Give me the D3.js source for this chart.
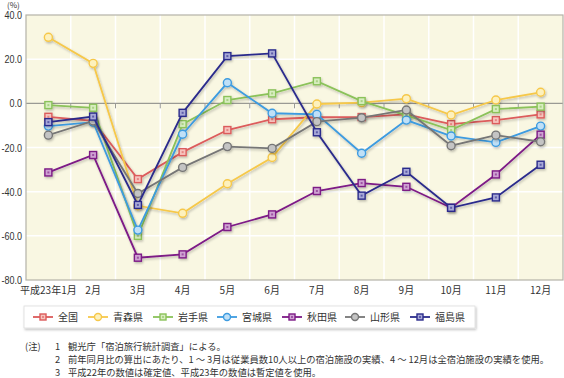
<!DOCTYPE html>
<html>
<head>
<meta charset="utf-8">
<script src="https://cdn.jsdelivr.net/npm/d3@7"></script>
<style>
  body { margin: 0; background: #fff; }
  text { font-family: "Noto Sans CJK JP", "Noto Sans", sans-serif; }
</style>
</head>
<body>
<svg id="chart" width="564" height="378"></svg>
<script>
// month labels along the x axis
let months = ["平成23年1月", "2月", "3月", "4月", "5月", "6月", "7月", "8月", "9月", "10月", "11月", "12月"];
let yTicks = [40, 20, 0, -20, -40, -60, -80];

// year-on-year change (%) by prefecture
let zenkoku   = [-6.1, -7.9, -34.3, -22.1, -12.1, -7.2, -6.3, -6.2, -5.0, -9.4, -7.6, -5.0];
let aomori    = [29.9, 18.1, -46.4, -49.8, -36.4, -24.5, -0.3, 0.3, 2.1, -5.3, 1.5, 5.0];
let iwate     = [-0.8, -2.0, -60.0, -9.4, 1.5, 4.5, 10.0, 1.0, -5.5, -12.1, -2.6, -1.5];
let miyagi    = [-10.3, -8.5, -57.4, -14.0, 9.3, -4.5, -5.0, -22.6, -7.6, -14.8, -17.7, -10.3];
let akita     = [-31.3, -23.4, -69.9, -68.4, -56.0, -50.3, -39.7, -36.1, -37.8, -47.3, -32.2, -14.2];
let yamagata  = [-14.4, -8.0, -40.8, -29.0, -19.6, -20.4, -8.3, -6.5, -3.0, -19.2, -14.4, -17.4];
let fukushima = [-8.5, -6.0, -46.0, -4.3, 21.4, 22.6, -13.1, -41.8, -31.0, -47.3, -42.6, -27.8];

let seriesNames = ["全国", "青森県", "岩手県", "宮城県", "秋田県", "山形県", "福島県"];
let seriesValues = [zenkoku, aomori, iwate, miyagi, akita, yamagata, fukushima];
let seriesShapes = ["square", "circle", "square", "circle", "square", "circle", "square"];
let lineColors = ["#dc5b5b", "#f6c84a", "#8bc25a", "#3d9be0", "#7d1a86", "#767676", "#2b2c8c"];
let fillColors = ["#f6c3bd", "#fdf1bd", "#d8edc0", "#bfe0f7", "#cfa3d3", "#c4c4c4", "#a8a9d8"];

let notes = [
  ["(注)", "1", "観光庁「宿泊旅行統計調査」による。"],
  ["", "2", "前年同月比の算出にあたり、1 ～ 3月は従業員数10人以上の宿泊施設の実績、4 ～ 12月は全宿泊施設の実績を使用。"],
  ["", "3", "平成22年の数値は確定値、平成23年の数値は暫定値を使用。"]
];

let svg = d3.select("#chart");
let plotLeft = 26, plotRight = 563, plotTop = 15, plotBottom = 280;

let x = d3.scaleBand().domain(months).range([plotLeft, plotRight]);
let y = d3.scaleLinear().domain([-80, 40]).range([plotBottom, plotTop]);
let cx = m => x(m) + x.bandwidth() / 2;

let defs = svg.append("defs");
let shadow = defs.append("filter").attr("id", "shadow")
    .attr("x", "-10%").attr("y", "-10%").attr("width", "130%").attr("height", "130%");
shadow.append("feDropShadow")
    .attr("dx", 1).attr("dy", 1.5).attr("stdDeviation", 1.2)
    .attr("flood-color", "#000").attr("flood-opacity", 0.25);

// plot background
svg.append("rect")
    .attr("x", plotLeft).attr("y", plotTop)
    .attr("width", plotRight - plotLeft).attr("height", plotBottom - plotTop)
    .style("fill", "#f9f7e2");

// white grid
svg.selectAll(".hgrid")
    .data(yTicks.filter(d => d != 40 && d != -80 && d != 0))
  .enter().append("line")
    .attr("x1", plotLeft).attr("x2", plotRight)
    .attr("y1", d => y(d)).attr("y2", d => y(d))
    .style("stroke", "#fff").style("stroke-width", 1.5);

svg.selectAll(".vgrid")
    .data(months.slice(1))
  .enter().append("line")
    .attr("x1", d => x(d)).attr("x2", d => x(d))
    .attr("y1", plotTop).attr("y2", plotBottom)
    .style("stroke", "#fff").style("stroke-width", 1.5);

// zero line with small ticks
svg.append("line")
    .attr("x1", plotLeft).attr("x2", plotRight)
    .attr("y1", y(0)).attr("y2", y(0))
    .style("stroke", "#9a9a94").style("stroke-width", 1.2);
svg.selectAll(".ztick")
    .data(months.slice(1))
  .enter().append("line")
    .attr("x1", d => x(d)).attr("x2", d => x(d))
    .attr("y1", y(0)).attr("y2", y(0) + 5)
    .style("stroke", "#9a9a94").style("stroke-width", 1);

// frame
svg.append("rect")
    .attr("x", plotLeft).attr("y", plotTop)
    .attr("width", plotRight - plotLeft).attr("height", plotBottom - plotTop)
    .style("fill", "none").style("stroke", "#b4b2a8").style("stroke-width", 1.2);

// y labels (horizontally squeezed like the original)
svg.selectAll(".ylabel")
    .data(yTicks)
  .enter().append("text")
    .attr("transform", d => "translate(" + (plotLeft - 4) + "," + (y(d) + 4) + ") scale(0.82,1)")
    .attr("text-anchor", "end")
    .style("font-family", "'Liberation Sans', Arial, sans-serif")
    .style("font-size", "11px")
    .style("fill", "#333")
    .text(d => d.toFixed(1));

svg.append("text")
    .attr("x", 7).attr("y", 8)
    .style("font-size", "8px")
    .style("fill", "#333")
    .text("(%)");

// x labels
svg.selectAll(".xlabel")
    .data(months)
  .enter().append("text")
    .attr("x", d => cx(d))
    .attr("y", plotBottom + 14)
    .attr("text-anchor", "middle")
    .style("font-size", "10px")
    .style("fill", "#333")
    .text(d => d);

function drawMarker(g, shape, i, size) {
  if (shape == "square") {
    g.append("rect")
      .attr("x", -size / 2).attr("y", -size / 2)
      .attr("width", size).attr("height", size)
      .style("fill", fillColors[i]).style("stroke", lineColors[i]).style("stroke-width", 1.4);
    g.append("rect")
      .attr("x", -1).attr("y", -1).attr("width", 2).attr("height", 2)
      .style("fill", lineColors[i]).style("opacity", 0.6);
  } else {
    g.append("circle")
      .attr("r", size / 2 + 0.5)
      .style("fill", fillColors[i]).style("stroke", lineColors[i]).style("stroke-width", 1.4);
  }
}

// series
let line = d3.line()
    .x((d, j) => cx(months[j]))
    .y(d => y(d));

seriesValues.forEach(function(vals, i) {
  let g = svg.append("g").attr("filter", "url(#shadow)");
  g.append("path")
    .datum(vals)
    .attr("d", line)
    .style("fill", "none")
    .style("stroke", lineColors[i])
    .style("stroke-width", 1.8);
  vals.forEach(function(v, j) {
    let m = g.append("g").attr("transform", "translate(" + cx(months[j]) + "," + y(v) + ")");
    drawMarker(m, seriesShapes[i], i, 7);
  });
});

// legend
let legend = svg.append("g");
legend.append("rect")
    .attr("x", 24).attr("y", 306)
    .attr("width", 451).attr("height", 22)
    .attr("filter", "url(#shadow)")
    .style("fill", "#fff").style("stroke", "#dddddd").style("stroke-width", 0.8);

let legendX = [33, 88, 153, 217, 282, 345, 410];
seriesNames.forEach(function(name, i) {
  let lg = legend.append("g").attr("transform", "translate(" + legendX[i] + ",317)");
  lg.append("line")
    .attr("x1", 0).attr("x2", 20)
    .style("stroke", lineColors[i]).style("stroke-width", 1.8);
  let m = lg.append("g").attr("transform", "translate(10,0)");
  drawMarker(m, seriesShapes[i], i, 6);
  lg.append("text")
    .attr("x", 25).attr("y", 3.5)
    .style("font-size", "10px")
    .style("fill", "#333")
    .text(name);
});

// notes
notes.forEach(function(n, i) {
  let ny = 350 + i * 13.2;
  svg.append("text").attr("x", 25).attr("y", ny)
    .style("font-size", "9.3px").style("fill", "#333").text(n[0]);
  svg.append("text").attr("x", 55).attr("y", ny)
    .style("font-size", "9.3px").style("fill", "#333").text(n[1]);
  svg.append("text").attr("x", 68).attr("y", ny)
    .style("font-size", "9.3px").style("fill", "#333").text(n[2]);
});
</script>
</body>
</html>
